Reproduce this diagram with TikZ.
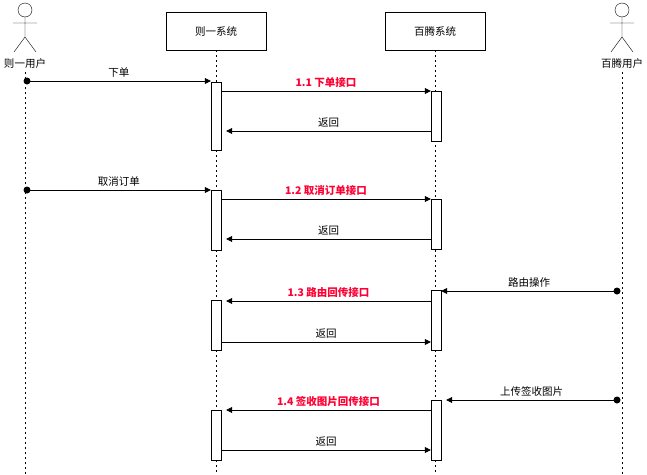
\documentclass[tikz,border=0pt]{standalone}
\usepackage{fontspec}
\newfontfamily\cjk{Noto Sans CJK SC}
\usetikzlibrary{arrows.meta}
\tikzset{
  lbl/.style={font=\cjk\fontsize{10.5}{12}\selectfont, inner sep=1pt},
  call/.style={lbl, text=red!80!magenta, font=\cjk\bfseries\fontsize{10.5}{12}\selectfont},
  msg/.style={-{Triangle[length=6pt,width=6pt]}, line width=0.7pt},
  sys/.style={draw, minimum width=100pt, minimum height=38pt, font=\cjk\fontsize{10.5}{12}\selectfont},
  life/.style={dash pattern=on 2pt off 3pt, line width=0.5pt},
  act/.style={draw, fill=white, minimum width=10pt, inner sep=0pt}
}
\newcommand{\stick}[2]{%
  \draw (#1,10) circle (7pt);
  \draw (#1,17) -- (#1,37) (#1-12,23) -- (#1+12,23)
        (#1-11,52) -- (#1,37) -- (#1+11,52);
  \node[lbl] (#2) at (#1,65) {};}
\begin{document}
\begin{tikzpicture}[x=1pt,y=-1pt]
  \useasboundingbox (0,0) rectangle (647,474);

  % actors and systems
  \stick{25}{ua}
  \node[lbl] at (25,64) {则一用户};
  \stick{622}{ub}
  \node[lbl] at (622,64) {百腾用户};
  \node[sys] (za) at (216,31) {则一系统};
  \node[sys] (bt) at (435,31) {百腾系统};

  % lifelines
  \draw[life] (25,72) -- (25,474);
  \draw[life] (622,72) -- (622,474);
  \draw[life] (za.south) -- (216,474);
  \draw[life] (bt.south) -- (435,474);

  % activations
  \foreach \x/\a/\b/\n in {216/82/150/za1, 436/91/141/bt1, 216/190/250/za2, 436/199/249/bt2,
                           436/290/350/bt3, 216/300/350/za3, 436/400/460/bt4, 216/410/460/za4}
    \node[act, minimum height=\b pt-\a pt] (\n) at (\x,{(\a+\b)/2}) {};

  % points
  \coordinate (u1) at (27,81);
  \coordinate (u2) at (27,190);
  \coordinate (v3) at (617,291);
  \coordinate (v4) at (617,400);
  \fill (u1) circle (3.5pt) (u2) circle (3.5pt) (v3) circle (3.5pt) (v4) circle (3.5pt);

  % 1
  \draw[msg] (u1) -- node[lbl, above=2pt]{下单} (za1.west |- u1);
  \draw[msg] (za1.east |- 0,91) -- node[call, above=2pt]{1.1 下单接口} (bt1.west |- 0,91);
  \draw[msg] (bt1.west |- 0,131) -- node[lbl, above=2pt]{返回} ([xshift=5pt]za1.east |- 0,131);
  % 2
  \draw[msg] (u2) -- node[lbl, above=2pt]{取消订单} (za2.west |- u2);
  \draw[msg] (za2.east |- 0,199) -- node[call, above=2pt]{1.2 取消订单接口} (bt2.west |- 0,199);
  \draw[msg] (bt2.west |- 0,239) -- node[lbl, above=2pt]{返回} ([xshift=5pt]za2.east |- 0,239);
  % 3
  \draw[msg] (v3) -- node[lbl, above=2pt]{路由操作} (bt3.east |- v3);
  \draw[msg] (bt3.west |- 0,301) -- node[call, above=2pt]{1.3 路由回传接口} ([xshift=5pt]za3.east |- 0,301);
  \draw[msg] (za3.east |- 0,342) -- node[lbl, above=2pt]{返回} (bt3.west |- 0,342);
  % 4
  \draw[msg] (v4) -- node[lbl, above=2pt]{上传签收图片} ([xshift=5pt]bt4.east |- v4);
  \draw[msg] (bt4.west |- 0,410) -- node[call, above=2pt]{1.4 签收图片回传接口} ([xshift=5pt]za4.east |- 0,410);
  \draw[msg] (za4.east |- 0,450) -- node[lbl, above=2pt]{返回} (bt4.west |- 0,450);
\end{tikzpicture}
\end{document}
